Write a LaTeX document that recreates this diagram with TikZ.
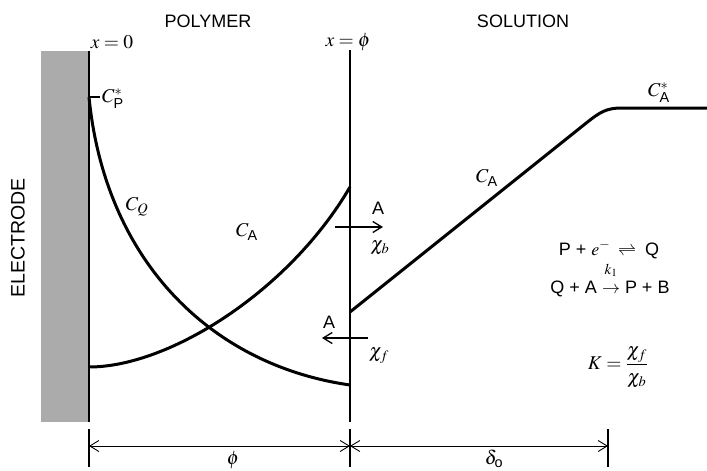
\documentclass[tikz,border=0pt]{standalone}
\usepackage{amsmath}
\usepackage{mathptmx}
\usepackage[no-math]{fontspec}
\setmainfont{Liberation Sans}
\usetikzlibrary{arrows.meta}

\begin{document}
\begin{tikzpicture}[x=1pt, y=-1pt, font=\fontsize{18}{21}\selectfont]
\tikzstyle{conc}=[line width=3pt]
\tikzstyle{wall}=[line width=1.4pt]
\tikzstyle{flux}=[line width=2.6pt, -{Straight Barb[length=9pt, width=11pt, line width=1.3pt]}]
\tikzstyle{dim}=[line width=0.9pt, {Straight Barb[length=9pt, width=11pt]}-{Straight Barb[length=9pt, width=11pt]}]
\tikzstyle{tick}=[line width=1.1pt]
\tikzstyle{lbl}=[inner sep=0pt]
\tikzstyle{mlbl}=[inner sep=0pt, font=\fontsize{19.5}{22}\selectfont]
\useasboundingbox (0,0) rectangle (707,471);

\coordinate (eltop) at (89,51);
\coordinate (elbot) at (89,422);
\coordinate (phitop) at (350,50);
\coordinate (phibot) at (350,422);
\coordinate (cp) at (89,97);
\coordinate (cpt) at (100,97);
\coordinate (cqend) at (350,385);
\coordinate (ca0) at (89,367);
\coordinate (caphi) at (350,187);
\coordinate (cs0) at (350,312);
\coordinate (knee) at (585,124);
\coordinate (flat) at (622,108);
\coordinate (far) at (707,108);

\fill[black!33] (41,51) rectangle (elbot);
\draw[wall] (eltop) -- (elbot);
\draw[wall] (phitop) -- (phibot);

\node[lbl] (polymer) at (208,21) {POLYMER};
\node[lbl] (solution) at (523,21) {SOLUTION};
\node[mlbl] (xzero) at (112,42) {$x=0$};
\node[mlbl] (xphi) at (348,42) {$x=\phi$};
\node[lbl, rotate=90, font=\fontsize{19.5}{22}\selectfont] (electrode) at (18,238) {ELECTRODE};

\draw[tick] (cp) -- (cpt);
\node[mlbl, anchor=west] (cpstar) at (102,99) {$C_{\text{P}}^{*}$};
\draw[conc] (cp) .. controls (105,260) and (210,365) .. (cqend);
\node[mlbl] (cq) at (137,207) {$C_Q$};
\draw[conc] (ca0) .. controls (170,367) and (290,290) .. (caphi);
\node[mlbl] (capol) at (247,232) {$C_{\text{A}}$};
\draw[conc] (cs0) -- (knee) .. controls (600,112) and (606,108) .. (flat) -- (far);
\node[mlbl] (casol) at (487,178) {$C_{\text{A}}$};
\node[mlbl] (castar) at (659,93) {$C_{\text{A}}^{*}$};

\coordinate (bfrom) at (335,227);
\coordinate (bto) at (383,227);
\draw[flux] (bfrom) -- (bto);
\node[lbl] (ab) at (378,208) {A};
\node[mlbl] (chib) at (380,248) {$\chi_b$};
\coordinate (ffrom) at (368,338);
\coordinate (fto) at (322,338);
\draw[flux] (ffrom) -- (fto);
\node[lbl] (af) at (329,322) {A};
\node[mlbl] (chif) at (379,356) {$\chi_f$};

\node[lbl] (redox) at (609,250) {P + $e^{-}\;\rightleftharpoons\;$ Q};
\node[lbl, font=\fontsize{15}{17}\selectfont] (kone) at (611,270) {$k_1$};
\node[lbl] (chem) at (610,289) {Q + A $\rightarrow$ P + B};
\node[mlbl] (kratio) at (618,367) {$K=\dfrac{\chi_f}{\chi_b}$};

\coordinate (t0a) at (89,429);
\coordinate (t0b) at (89,467);
\coordinate (t1a) at (350,429);
\coordinate (t1b) at (350,467);
\coordinate (t2a) at (608,429);
\coordinate (t2b) at (608,467);
\draw[tick] (t0a) -- (t0b);
\draw[tick] (t1a) -- (t1b);
\draw[tick] (t2a) -- (t2b);
\draw[dim] (89,446) -- (350,446);
\draw[dim] (350,446) -- (608,446);
\node[mlbl] (phi) at (233,460) {$\phi$};
\node[mlbl] (delta) at (494,459) {$\delta_{\text{o}}$};
\end{tikzpicture}
\end{document}
